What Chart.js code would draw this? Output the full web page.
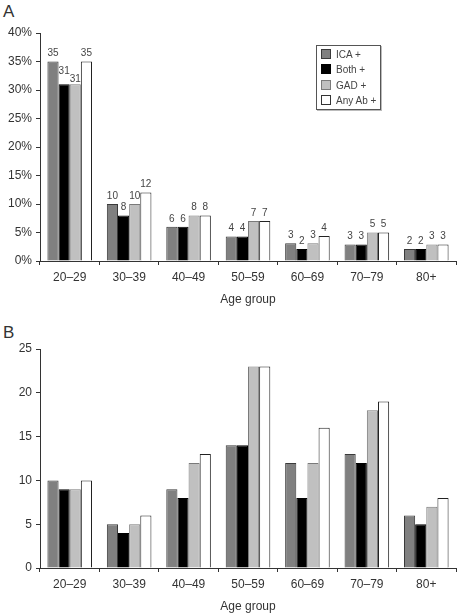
<!DOCTYPE html>
<html>
<head>
<meta charset="utf-8">
<script src="https://cdn.jsdelivr.net/npm/chart.js@4/dist/chart.umd.min.js"></script>
<style>
  body { margin: 0; background: #fff; width: 458px; height: 614px; position: relative; overflow: hidden; font-family: "Liberation Sans", Arial, sans-serif; }
  canvas { position: absolute; left: 0; }
  #chartA { top: 0; }
  #chartB { top: 310px; }
  .panel { position: absolute; left: 3px; font-size: 17px; color: #333; }
  #legend { position: absolute; left: 316px; top: 45px; width: 63px; height: 63px; border: 1px solid #555; box-shadow: 1px 1px 0 #bbb; background: #fff; }
  .item { position: absolute; left: 4px; font-size: 10px; color: #444; line-height: 12px; white-space: nowrap; }
  .item span { display: inline-block; width: 8px; height: 8px; margin-right: 5px; vertical-align: -1px; }
</style>
</head>
<body>
<div class="panel" style="top:2px">A</div>
<div class="panel" style="top:323px">B</div>
<canvas id="chartA" width="458" height="310"></canvas>
<canvas id="chartB" width="458" height="304"></canvas>
<div id="legend"></div>
<script>
const ageGroups = ["20–29", "30–39", "40–49", "50–59", "60–69", "70–79", "80+"];
const seriesNames = ["ICA +", "Both +", "GAD +", "Any Ab +"];

// panel A: percent of each antibody group
const icaPct = [35, 10, 6, 4.3, 3.1, 2.9, 2.1];
const bothPct = [31, 8, 6, 4.3, 2.1, 2.9, 2.1];
const gadPct = [31, 10, 8, 7, 3.1, 5, 2.9];
const anyPct = [35, 12, 8, 7, 4.4, 5, 2.9];
const pctTicks = [0, 5, 10, 15, 20, 25, 30, 35, 40];

// panel B: counts
const icaCount = [10, 5, 9, 14, 12, 13, 6];
const bothCount = [9, 4, 8, 14, 8, 12, 5];
const gadCount = [9, 5, 12, 23, 12, 18, 7];
const anyCount = [10, 6, 13, 23, 16, 19, 8];
const countTicks = [0, 5, 10, 15, 20, 25];

const fills = ["#808080", "#000000", "#c0c0c0", "#ffffff"];
const borders = ["#3a3a3a", "#000000", "#7a7a7a", "#222222"];
const textColor = "#333";
const font = "'Liberation Sans', Arial, sans-serif";

function makeSets(lists) {
  return lists.map((d, i) => ({
    label: seriesNames[i],
    data: d,
    backgroundColor: fills[i],
    borderColor: borders[i],
    borderWidth: 1,
    categoryPercentage: 0.75,
    barPercentage: 1.0
  }));
}

// draws rounded value over each bar, staggering labels that would collide
const barLabels = {
  id: "barLabels",
  afterDatasetsDraw(chart, args, opts) {
    if (!opts.show) return;
    const ctx = chart.ctx;
    ctx.save();
    ctx.font = "10px " + font;
    ctx.fillStyle = "#444";
    ctx.textAlign = "center";
    ctx.textBaseline = "bottom";
    const n = chart.data.labels.length;
    for (let j = 0; j < n; j++) {
      const items = chart.data.datasets.map((ds, i) => {
        const bar = chart.getDatasetMeta(i).data[j];
        const text = String(Math.round(ds.data[j]));
        return { text, x: bar.x, y: bar.y - 3, w: ctx.measureText(text).width };
      });
      for (let i = 1; i < items.length; i++) {
        const a = items[i - 1], b = items[i];
        if (Math.abs(a.x - b.x) < (a.w + b.w) / 2 + 1 && Math.abs(a.y - b.y) < 10) {
          a.y -= 5;
          b.y += 3;
        }
      }
      items.forEach(it => ctx.fillText(it.text, it.x, it.y));
    }
    ctx.restore();
  }
};

function makeChart(id, lists, ticks, suffix, pad, xHeight, titlePad, showLabels) {
  return new Chart(document.getElementById(id), {
    type: "bar",
    data: { labels: ageGroups, datasets: makeSets(lists) },
    plugins: [barLabels],
    options: {
      responsive: false,
      animation: false,
      layout: { padding: pad },
      plugins: {
        legend: { display: false },
        tooltip: { enabled: false },
        barLabels: { show: showLabels }
      },
      scales: {
        x: {
          grid: { display: true, drawOnChartArea: false, color: "#333", tickLength: 4, offset: true },
          border: { color: "#333", width: 1 },
          ticks: { color: textColor, font: { family: font, size: 12 }, padding: 5 },
          title: { display: true, text: "Age group", color: textColor, font: { family: font, size: 12 }, padding: { top: 0, bottom: titlePad } },
          afterFit(s) { s.height = xHeight; }
        },
        y: {
          min: ticks[0],
          max: ticks[ticks.length - 1],
          afterBuildTicks(s) { s.ticks = ticks.map(v => ({ value: v })); },
          grid: { display: true, drawOnChartArea: false, color: "#333", tickLength: 4 },
          border: { color: "#333", width: 1 },
          ticks: { color: textColor, font: { family: font, size: 12 }, padding: 4, callback: v => v + suffix },
          afterFit(s) { s.width = 40; }
        }
      }
    }
  });
}

makeChart("chartA", [icaPct, bothPct, gadPct, anyPct], pctTicks, "%", { top: 33, right: 2, left: 0, bottom: 0 }, 49, 3, true);
makeChart("chartB", [icaCount, bothCount, gadCount, anyCount], countTicks, "", { top: 39, right: 2, left: 0, bottom: 0 }, 46, 0, false);

// legend box for panel A
const legend = document.getElementById("legend");
seriesNames.forEach((name, i) => {
  const row = document.createElement("div");
  row.className = "item";
  row.style.top = (3 + i * 15.3) + "px";
  row.innerHTML = '<span style="background:' + fills[i] + ';border:1px solid ' + (i === 3 ? "#333" : borders[i]) + '"></span>' + name;
  legend.appendChild(row);
});
</script>
</body>
</html>
